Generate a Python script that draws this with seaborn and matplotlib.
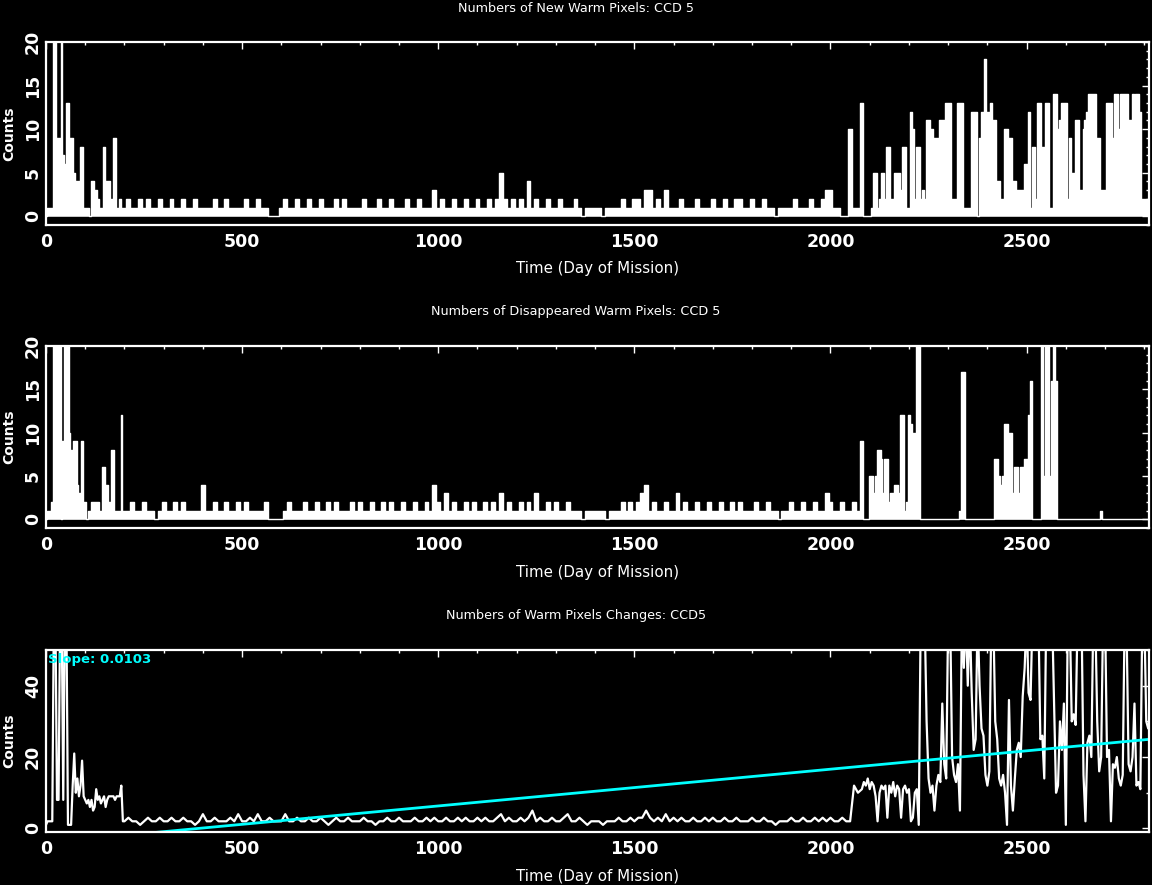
import numpy as np
import pandas as pd
import matplotlib
matplotlib.use('Agg')
import matplotlib.pyplot as plt
import seaborn as sns
from matplotlib.ticker import MultipleLocator

# sampling grid (day of mission) for each stretch of the record
early_days = np.arange(0, 200, 4)      # 50 samples
mid_days = np.arange(200, 2080, 10)    # 188 samples
late_days = np.arange(2080, 2815, 5)   # 147 samples

# ---- new warm pixels, CCD 5
new_early = [0, 1, 1, 1, 1, 25, 25, 9, 9, 9, 25, 7, 6, 13, 13, 9, 9, 9, 5, 4,
             4, 4, 8, 8, 1, 1, 1, 1, 0, 4, 4, 3, 3, 2, 1, 1, 1, 8, 4, 4,
             4, 1, 2, 9, 9, 1, 1, 2, 1, 1]
new_mid = [1, 2, 1, 1, 2, 1, 2, 1, 1, 2, 1, 1, 2, 1, 1, 2, 1, 1, 2, 1,
           1, 1, 1, 2, 1, 1, 2, 1, 1, 1, 1, 2, 1, 1, 2, 1, 1, 0, 0, 0,
           1, 2, 1, 1, 2, 1, 1, 2, 1, 1, 2, 1, 1, 1, 2, 1, 2, 1, 1, 1,
           1, 2, 1, 1, 1, 2, 1, 1, 2, 1, 1, 1, 2, 1, 1, 2, 1, 1, 1, 3,
           1, 2, 1, 1, 2, 1, 1, 2, 1, 1, 2, 1, 1, 2, 1, 2, 5, 2, 1, 2,
           1, 2, 1, 4, 1, 2, 1, 1, 2, 1, 1, 2, 1, 1, 1, 2, 1, 0, 1, 1,
           1, 1, 0, 1, 1, 1, 1, 2, 1, 1, 2, 2, 1, 3, 3, 1, 2, 1, 3, 1,
           1, 1, 2, 1, 1, 1, 2, 1, 1, 1, 2, 1, 1, 2, 1, 1, 2, 2, 1, 1,
           2, 1, 1, 2, 1, 1, 0, 1, 1, 1, 1, 2, 1, 1, 1, 2, 1, 1, 2, 3,
           3, 1, 1, 0, 0, 10, 1, 1]
new_late = [13, 0, 0, 0, 0, 1, 5, 5, 1, 2, 5, 5, 2, 8, 8, 2, 2, 5, 5, 5,
            3, 8, 8, 1, 1, 12, 10, 2, 8, 8, 2, 3, 2, 11, 11, 10, 10, 9, 9, 9,
            11, 11, 11, 13, 13, 13, 2, 2, 2, 13, 13, 13, 1, 1, 1, 1, 12, 12, 12, 0,
            9, 12, 12, 18, 12, 12, 13, 11, 11, 4, 4, 2, 2, 10, 10, 9, 9, 4, 4, 3,
            3, 3, 3, 6, 6, 12, 1, 8, 8, 2, 13, 13, 8, 8, 13, 13, 1, 1, 14, 14,
            10, 11, 13, 13, 13, 2, 9, 5, 5, 11, 11, 3, 3, 10, 11, 12, 14, 14, 14, 14,
            9, 9, 3, 3, 3, 13, 13, 13, 9, 14, 14, 10, 14, 14, 14, 14, 11, 11, 14, 10,
            14, 14, 12, 2, 2, 2, 2]

# ---- disappeared warm pixels, CCD 5
gone_early = [0, 1, 1, 1, 2, 25, 25, 25, 25, 25, 0, 9, 25, 25, 25, 10, 8, 7, 9, 9,
              4, 3, 3, 9, 2, 2, 0, 1, 1, 2, 2, 2, 2, 2, 1, 1, 6, 6, 4, 4,
              2, 2, 8, 8, 1, 1, 1, 1, 12, 1]
gone_mid = [1, 1, 2, 1, 1, 2, 1, 1, 0, 1, 2, 1, 1, 2, 1, 2, 1, 1, 1, 1,
            4, 1, 1, 2, 1, 1, 2, 1, 1, 2, 1, 2, 1, 1, 1, 1, 2, 0, 0, 0,
            0, 1, 2, 1, 1, 1, 2, 1, 1, 2, 1, 1, 2, 1, 2, 1, 1, 1, 2, 1,
            2, 1, 1, 2, 1, 1, 2, 1, 2, 1, 1, 2, 1, 1, 2, 1, 1, 2, 1, 4,
            2, 1, 3, 1, 2, 1, 1, 2, 1, 2, 1, 1, 2, 1, 2, 1, 3, 1, 2, 1,
            1, 2, 1, 2, 1, 3, 1, 1, 2, 1, 2, 1, 1, 2, 1, 1, 1, 0, 1, 1,
            1, 1, 1, 0, 1, 1, 1, 2, 1, 2, 1, 2, 3, 4, 1, 2, 1, 1, 2, 1,
            1, 3, 1, 2, 1, 1, 2, 1, 1, 2, 1, 1, 2, 1, 1, 2, 1, 2, 1, 1,
            1, 2, 1, 1, 2, 1, 1, 0, 1, 1, 2, 1, 1, 2, 1, 1, 2, 1, 1, 3,
            2, 1, 1, 2, 1, 1, 2, 1]
gone_late = [9, 0, 0, 0, 5, 5, 3, 5, 8, 8, 7, 3, 7, 7, 2, 3, 3, 4, 4, 3,
             12, 12, 1, 2, 12, 11, 10, 10, 25, 25, 0, 0, 0, 0, 0, 0, 0, 0, 0, 0,
             0, 0, 0, 0, 0, 0, 0, 0, 0, 0, 1, 17, 17, 0, 0, 0, 0, 0, 0, 0,
             0, 0, 0, 0, 0, 0, 0, 0, 7, 7, 5, 4, 5, 11, 11, 10, 10, 3, 6, 6,
             3, 6, 6, 7, 7, 12, 16, 0, 0, 0, 0, 0, 25, 5, 25, 25, 5, 16, 25, 16,
             0, 0, 0, 0, 0, 0, 0, 0, 0, 0, 0, 0, 0, 0, 0, 0, 0, 0, 0, 0,
             0, 0, 1, 0, 0, 0, 0, 0, 0, 0, 0, 0, 0, 0, 0, 0, 0, 0, 0, 0,
             0, 0, 0, 0, 0, 0, 0]

# ---- warm pixel changes, CCD5
chg_early = [1, 2, 2, 2, 2, 60, 60, 8, 8, 60, 60, 8, 60, 60, 1, 1, 1, 12, 21, 10,
             14, 9, 12, 19, 9, 8, 7, 8, 6, 8, 5, 6, 11, 8, 9, 7, 8, 9, 6, 8,
             9, 9, 9, 9, 8, 9, 9, 9, 12, 2]
chg_mid = [2, 3, 2, 2, 1, 2, 3, 2, 2, 3, 2, 2, 3, 2, 2, 3, 2, 2, 1, 2,
           4, 2, 2, 3, 2, 2, 2, 3, 2, 4, 2, 2, 3, 2, 4, 2, 2, 3, 2, 2,
           2, 4, 2, 2, 3, 2, 2, 3, 2, 2, 3, 2, 1, 2, 3, 2, 2, 3, 2, 2,
           2, 3, 2, 2, 1, 2, 2, 3, 2, 2, 3, 2, 2, 2, 3, 2, 2, 3, 2, 3,
           2, 2, 3, 2, 2, 3, 2, 3, 2, 2, 3, 2, 3, 2, 2, 3, 4, 2, 3, 2,
           2, 3, 2, 3, 5, 2, 3, 2, 2, 3, 2, 2, 3, 4, 2, 2, 3, 2, 1, 2,
           2, 2, 1, 2, 2, 2, 3, 2, 2, 3, 2, 3, 3, 5, 3, 2, 3, 2, 4, 2,
           3, 2, 3, 2, 2, 3, 2, 2, 3, 2, 3, 2, 2, 3, 2, 2, 3, 2, 2, 2,
           3, 2, 2, 3, 2, 2, 1, 2, 2, 2, 3, 2, 2, 3, 2, 2, 3, 2, 3, 2,
           3, 2, 2, 3, 2, 2, 12, 10]
chg_late = [11, 13, 12, 14, 11, 13, 12, 9, 2, 10, 12, 11, 12, 3, 12, 10, 13, 9, 12, 11,
            3, 11, 12, 10, 11, 2, 3, 10, 11, 1, 60, 60, 60, 30, 14, 10, 12, 5, 12, 15,
            13, 35, 18, 14, 60, 60, 20, 15, 13, 18, 5, 60, 45, 60, 40, 60, 38, 22, 25, 60,
            40, 28, 26, 15, 12, 16, 60, 60, 30, 25, 14, 12, 15, 10, 1, 36, 12, 5, 14, 22,
            24, 20, 37, 45, 60, 38, 36, 60, 55, 60, 60, 25, 26, 14, 60, 55, 60, 60, 35, 10,
            12, 30, 22, 35, 1, 60, 60, 30, 32, 29, 60, 60, 60, 15, 2, 24, 26, 20, 60, 60,
            30, 16, 20, 60, 60, 20, 22, 2, 18, 17, 20, 14, 12, 15, 60, 55, 18, 16, 20, 35,
            12, 13, 11, 60, 60, 30, 28]

fit_slope = 0.0103
fit_intercept = -4.0

panels = [
    ('Numbers of New Warm Pixels: CCD 5', new_early + new_mid + new_late, (-1, 20), 5, 1, True),
    ('Numbers of Disappeared Warm Pixels: CCD 5', gone_early + gone_mid + gone_late, (-1, 20), 5, 1, True),
    ('Numbers of Warm Pixels Changes: CCD5', chg_early + chg_mid + chg_late, (-1, 50), 20, 10, False),
]
all_days = np.concatenate([early_days, mid_days, late_days])

sns.set_style('dark', {'axes.facecolor': 'black', 'figure.facecolor': 'black',
                       'axes.edgecolor': 'white', 'text.color': 'white',
                       'xtick.color': 'white', 'ytick.color': 'white',
                       'axes.labelcolor': 'white', 'axes.grid': False})
plt.rcParams['font.family'] = ['DejaVu Sans']

fig = plt.figure(figsize=(11.52, 8.85), dpi=100)
W, H = 1152, 885
boxes = [(42, 225), (346, 528), (650, 832)]
title_y = [8, 312, 615]
xlab_y = [268, 572, 876]

for (title, vals, ylim, ymaj, ymin, histo), (top, bot), ty, xy in zip(panels, boxes, title_y, xlab_y):
    ax = fig.add_axes([46 / W, 1 - bot / H, (1149 - 46) / W, (bot - top) / H])
    df = pd.DataFrame({'day': all_days, 'count': vals})
    if histo:
        ax.fill_between(df['day'], df['count'], step='mid', color='white', lw=0)
        sns.lineplot(data=df, x='day', y='count', ax=ax, color='white', lw=1,
                     drawstyle='steps-mid', estimator=None)
    else:
        sns.lineplot(data=df, x='day', y='count', ax=ax, color='white', lw=1.6,
                     estimator=None)
        fx = np.array([0, 2812])
        fit = pd.DataFrame({'day': fx, 'count': fit_slope * fx + fit_intercept})
        sns.lineplot(data=fit, x='day', y='count', ax=ax, color='#00ffff', lw=2)
        ax.text(0.002, 0.985, 'Slope: 0.0103', transform=ax.transAxes, color='#00ffff',
                fontsize=9.5, fontweight='bold', ha='left', va='top')

    ax.set_xlim(0, 2812)
    ax.set_ylim(*ylim)
    ax.xaxis.set_major_locator(MultipleLocator(500))
    ax.xaxis.set_minor_locator(MultipleLocator(100))
    ax.yaxis.set_major_locator(MultipleLocator(ymaj))
    ax.yaxis.set_minor_locator(MultipleLocator(ymin))
    ax.tick_params(which='both', direction='in', top=True, right=True, color='white')
    ax.tick_params(which='major', length=5, width=1)
    ax.tick_params(which='minor', length=2.5, width=1)
    ax.tick_params(axis='x', labelsize=12.5, pad=6)
    ax.tick_params(axis='y', labelsize=12.5, pad=3)
    for lab in ax.get_xticklabels() + ax.get_yticklabels():
        lab.set_fontweight('bold')
    for lab in ax.get_yticklabels():
        lab.set_rotation(90)
        lab.set_va('center')
    for sp in ax.spines.values():
        sp.set_color('white')
        sp.set_linewidth(1.6)
    ax.set_xlabel('')
    ax.set_ylabel('Counts', fontsize=10, fontweight='bold')
    ax.yaxis.set_label_coords(-0.027, 0.5)
    fig.text(0.5, 1 - ty / H, title, ha='center', va='center', fontsize=9.2)
    fig.text(598 / W, 1 - xy / H, 'Time (Day of Mission)', ha='center', va='center', fontsize=10.8)

fig.savefig('out.png', dpi=100, facecolor='black')
